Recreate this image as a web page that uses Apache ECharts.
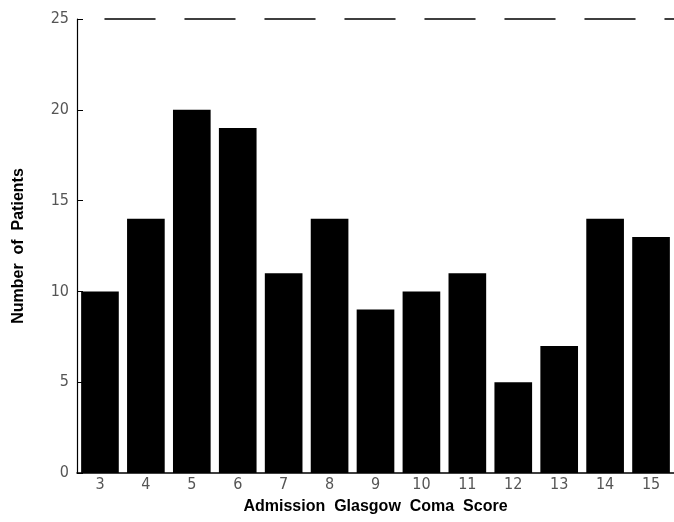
<!DOCTYPE html>
<html>
<head>
<meta charset="utf-8">
<script src="https://cdn.jsdelivr.net/npm/echarts@6/dist/echarts.min.js"></script>
<style>html,body{margin:0;padding:0;background:#fff}#c{width:674px;height:522px}</style>
</head>
<body>
<div id="c"></div>
<script>
const categories = ['3','4','5','6','7','8','9','10','11','12','13','14','15'];
const patients = [10, 14, 20, 19, 11, 14, 9, 10, 11, 5, 7, 14, 13];
const yTicks = [0, 5, 10, 15, 20, 25];
const xTitle = 'Admission  Glasgow  Coma  Score';
const yTitle = 'Number  of  Patients';

const chart = echarts.init(document.getElementById('c'));
const tickFont = {fontFamily: 'Liberation Sans Narrow, DejaVu Sans Condensed, sans-serif', fontSize: 16, color: '#555', fontWeight: 'lighter'};
chart.setOption({
  animation: false,
  backgroundColor: '#fff',
  grid: {left: 77, top: 19, width: 599, bottom: 49, containLabel: false},
  xAxis: [{
    type: 'category', data: categories,
    axisLine: {lineStyle: {color: '#000', width: 1.5}},
    axisTick: {show: false},
    axisLabel: Object.assign({margin: 4}, tickFont),
    name: xTitle, nameLocation: 'middle', nameGap: 26,
    nameTextStyle: {fontFamily: 'Liberation Sans, Arial, sans-serif', fontWeight: 'bold', fontSize: 16, color: '#000'}
  }, {
    type: 'category', data: categories, position: 'top',
    axisLine: {show: true, lineStyle: {color: '#000', width: 1.5, type: [50, 30], dashOffset: -28}},
    axisTick: {show: false}, axisLabel: {show: false}
  }],
  yAxis: {
    type: 'value', min: 0, max: 25, interval: 5,
    axisLine: {show: true, lineStyle: {color: '#000', width: 1.2}},
    axisTick: {show: true, inside: true, length: 6, lineStyle: {color: '#000'}},
    splitLine: {show: false},
    axisLabel: Object.assign({margin: 8, formatter: v => yTicks.includes(v) ? String(v) : ''}, tickFont),
    name: yTitle, nameLocation: 'middle', nameGap: 50, nameRotate: 90,
    nameTextStyle: {fontFamily: 'Liberation Sans, Arial, sans-serif', fontWeight: 'bold', fontSize: 16, color: '#000'}
  },
  series: [{
    type: 'bar', data: patients, barCategoryGap: '18%',
    itemStyle: {color: '#000'}
  }]
});
</script>
</body>
</html>
